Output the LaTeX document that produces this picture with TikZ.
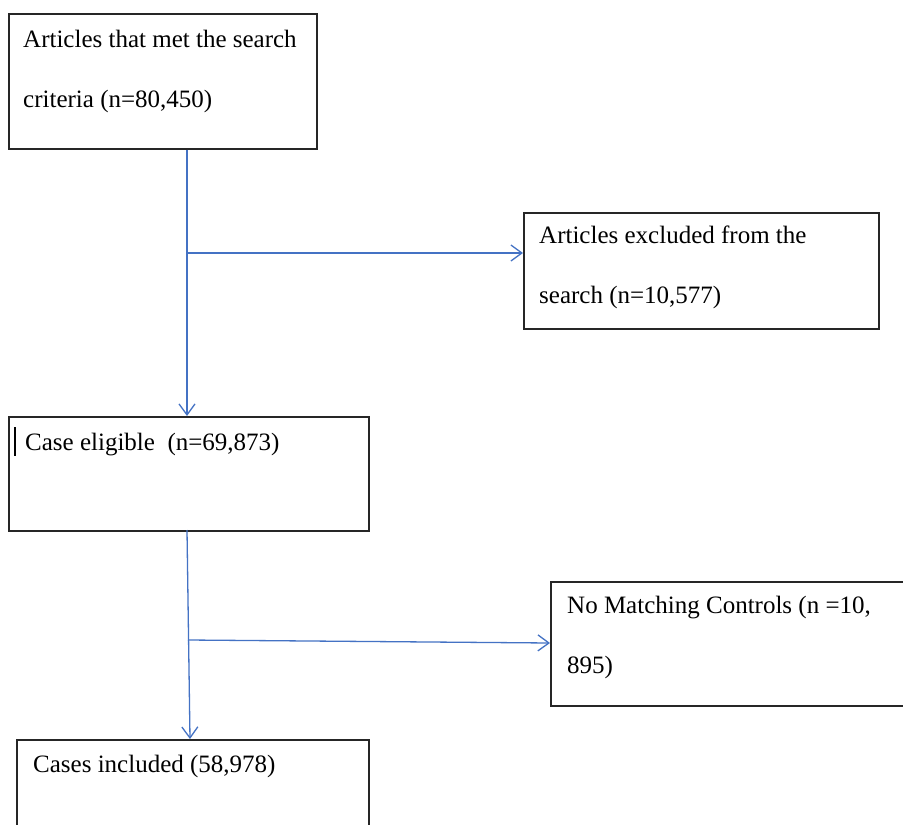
\documentclass[tikz,border=0pt]{standalone}
\usepackage{fontspec}
\setmainfont{Liberation Serif}
\usetikzlibrary{arrows.meta}
\definecolor{lnblue}{HTML}{4472C4}
\tikzset{
  x=1pt, y=-1pt,
  boxnode/.style={draw=black!85, line width=1.5pt, rectangle, inner sep=0pt, anchor=north west},
  txt/.style={inner sep=0pt, anchor=base west, align=left, font=\fontsize{25}{60}\selectfont},
  conn/.style={draw=lnblue, line width=1.3pt},
  arr/.style={conn, -{Straight Barb[length=11pt,width=16pt,line width=1.3pt]}}
}
\begin{document}
\begin{tikzpicture}
\useasboundingbox (0,0) rectangle (903,825);
\clip (0,0) rectangle (903,825);
\fill[white] (0,0) rectangle (903,825);
% boxes
\node[boxnode, minimum width=308pt, minimum height=135pt] (b1) at (8,13) {};
\node[boxnode, minimum width=355pt, minimum height=116pt] (bx) at (523,212) {};
\node[boxnode, minimum width=360pt, minimum height=114pt] (b2) at (8,416) {};
\node[boxnode, minimum width=400pt, minimum height=124pt] (bn) at (550,581) {};
\node[boxnode, minimum width=352pt, minimum height=150pt] (b3) at (16,739) {};
% texts (anchor = baseline of last line)
\node[txt] (t1) at (23,107) {Articles that met the search\\criteria (n=80,450)};
\node[txt] (tx) at (539,303) {Articles excluded from the\\search (n=10,577)};
\node[txt] (t2) at (25,450) {Case eligible\ \ (n=69,873)};
\node[txt] (tn) at (567,673) {No Matching Controls (n =10,\\895)};
\node[txt] (t3) at (33,772) {Cases included (58,978)};
% cursor bar
\draw[line width=2.4pt, black] (15,427) -- (15,456);
% connectors
\coordinate (j1) at (187,253);
\coordinate (j2) at (188,640);
\draw[arr] (j1 |- b1.south) -- (j1 |- b2.north);
\draw[arr] (j1) -- (j1 -| bx.west);
\draw[arr] (187,530) -- (190,739);
\draw[arr] (j2) -- (550,643);
\end{tikzpicture}
\end{document}
